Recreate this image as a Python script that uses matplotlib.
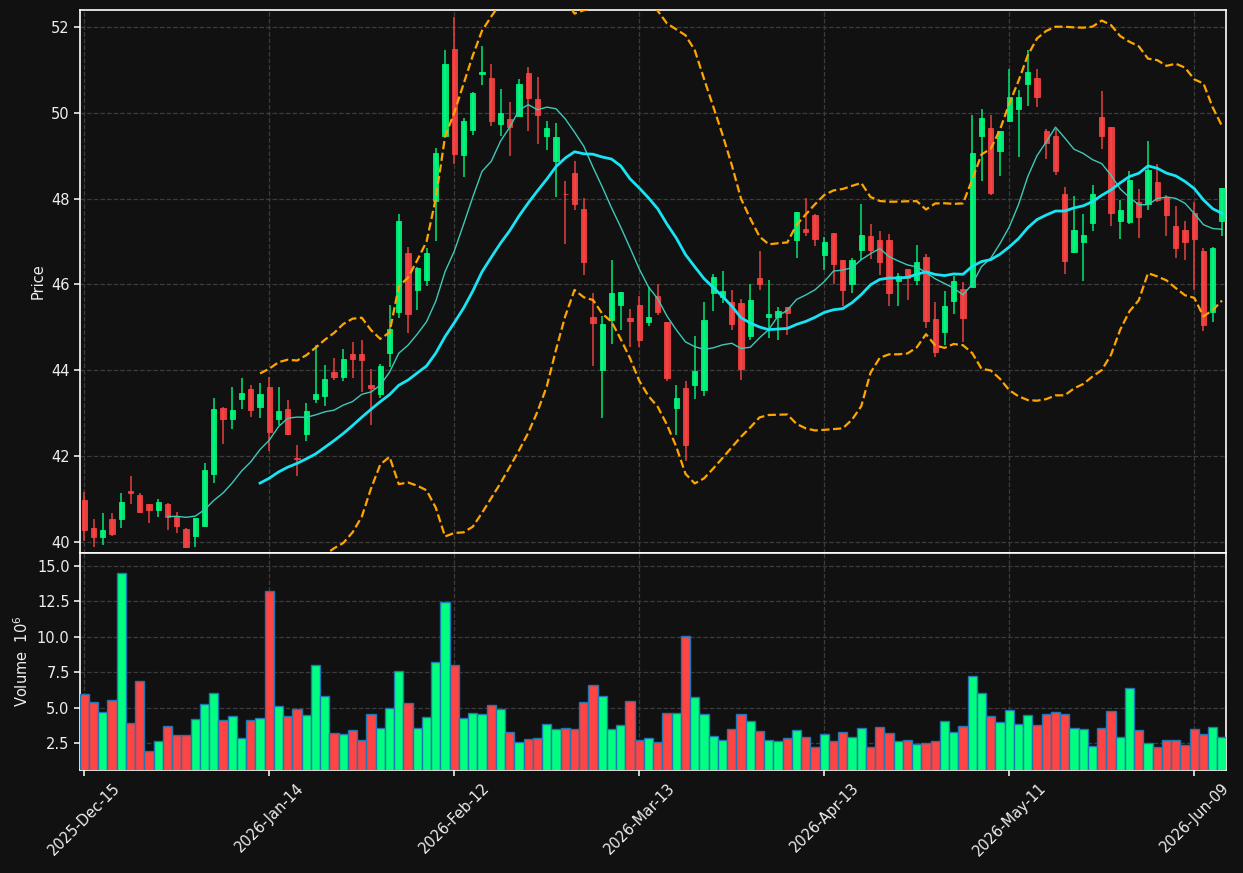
import numpy as np
import pandas as pd
import matplotlib
matplotlib.use("Agg")
import matplotlib.pyplot as plt

# ---------------- data ----------------
start_date = "2025-12-15"
n_days = 124
market_holidays = ["2025-12-25", "2026-01-01", "2026-01-19",
                   "2026-02-16", "2026-04-03", "2026-05-25"]

opens = [40.98, 40.33, 40.12, 40.54, 40.53, 41.19, 41.08, 40.89, 40.73, 40.89,
         40.61, 40.31, 40.13, 40.38, 41.59, 43.12, 42.87, 43.34, 43.57, 43.15,
         43.61, 42.87, 43.10, 41.95, 42.52, 43.34, 43.40, 43.97, 43.85, 44.37,
         44.37, 43.65, 43.44, 44.41, 45.36, 46.73, 45.87, 46.10, 47.94, 49.47,
         51.50, 49.02, 49.59, 50.90, 50.82, 49.74, 49.86, 49.92, 50.92, 50.33,
         49.45, 48.88, 48.11, 48.59, 47.77, 45.24, 44.01, 45.18, 45.52, 45.22,
         45.51, 45.13, 45.72, 45.13, 43.13, 43.58, 43.66, 43.55, 45.81, 45.71,
         45.59, 45.56, 44.80, 46.15, 45.25, 45.25, 45.48, 47.03, 47.29, 47.61,
         46.69, 47.19, 46.57, 46.02, 46.80, 47.12, 47.04, 47.03, 46.07, 46.36,
         46.11, 46.65, 45.19, 44.90, 45.61, 45.89, 45.94, 49.45, 49.65, 49.12,
         49.80, 50.08, 50.67, 50.82, 49.57, 49.47, 48.10, 46.76, 46.99, 47.43,
         49.91, 49.68, 47.47, 47.45, 47.92, 47.88, 48.38, 48.04, 47.37, 47.27,
         47.66, 46.78, 45.36, 47.47]
highs = [41.16, 40.53, 40.68, 40.68, 41.14, 41.53, 41.14, 40.89, 40.99, 40.91,
         40.70, 40.33, 40.56, 41.84, 43.35, 43.14, 43.61, 43.81, 43.65, 43.70,
         43.85, 43.61, 43.31, 42.26, 43.24, 44.59, 44.12, 44.28, 44.49, 44.65,
         44.71, 44.03, 44.15, 45.51, 47.65, 46.88, 46.40, 46.85, 49.18, 51.47,
         52.23, 49.89, 50.49, 51.57, 51.14, 50.55, 50.25, 50.79, 51.08, 50.84,
         49.81, 49.77, 48.42, 48.88, 48.02, 45.79, 45.26, 46.57, 45.82, 45.43,
         45.73, 45.93, 46.02, 45.13, 43.65, 43.74, 44.79, 45.60, 46.25, 46.31,
         45.86, 45.65, 46.02, 46.77, 46.10, 45.47, 45.48, 47.68, 48.01, 47.65,
         47.11, 47.19, 46.57, 46.62, 47.88, 47.41, 47.25, 47.18, 46.27, 46.36,
         46.91, 46.72, 45.58, 45.85, 46.20, 46.06, 49.95, 50.09, 49.95, 49.57,
         51.02, 50.54, 51.46, 51.02, 49.63, 49.63, 48.28, 48.07, 47.65, 48.31,
         50.51, 49.68, 47.97, 48.64, 48.23, 49.35, 48.80, 48.08, 47.84, 47.47,
         47.93, 46.86, 46.88, 48.26]
lows = [40.03, 39.87, 39.92, 40.14, 40.32, 40.88, 40.67, 40.45, 40.59, 40.27,
        40.20, 39.85, 39.88, 40.38, 41.38, 42.27, 42.64, 43.10, 42.92, 42.88,
        42.11, 42.72, 42.48, 41.53, 42.35, 43.24, 43.16, 43.77, 43.74, 43.81,
        43.49, 42.73, 43.36, 44.08, 45.22, 44.86, 45.41, 45.97, 47.01, 49.47,
        48.82, 48.50, 49.49, 50.64, 49.70, 49.47, 49.00, 49.92, 49.58, 49.27,
        49.14, 48.04, 46.95, 47.73, 46.21, 44.09, 42.88, 44.62, 44.94, 44.54,
        44.55, 45.04, 45.28, 43.74, 42.48, 41.88, 43.32, 43.40, 45.39, 45.57,
        44.94, 43.77, 44.70, 45.87, 44.76, 44.70, 44.82, 46.62, 47.14, 46.90,
        46.34, 46.02, 45.49, 45.81, 46.56, 46.60, 46.23, 45.49, 45.49, 45.63,
        45.99, 44.98, 44.32, 44.58, 45.31, 44.66, 45.94, 48.42, 48.09, 48.52,
        49.80, 48.97, 50.16, 50.14, 48.93, 48.56, 46.24, 46.74, 46.09, 47.25,
        49.15, 47.37, 47.07, 47.41, 47.08, 47.73, 47.92, 47.12, 46.61, 46.56,
        45.87, 44.92, 45.13, 47.14]
closes = [40.28, 40.12, 40.28, 40.19, 40.93, 41.14, 40.70, 40.73, 40.93, 40.57,
          40.36, 39.88, 40.56, 41.68, 43.10, 42.87, 43.07, 43.47, 43.08, 43.44,
          42.55, 43.04, 42.52, 41.94, 43.04, 43.44, 43.79, 43.85, 44.26, 44.27,
          44.25, 43.58, 44.10, 44.96, 47.47, 45.31, 46.38, 46.73, 49.06, 51.13,
          49.04, 49.82, 50.47, 50.96, 49.82, 50.00, 49.66, 50.67, 50.34, 49.95,
          49.65, 49.44, 48.10, 47.88, 46.53, 45.09, 45.08, 45.80, 45.82, 45.15,
          44.71, 45.24, 45.36, 43.82, 43.36, 42.26, 43.98, 45.17, 46.17, 45.85,
          45.08, 44.03, 45.64, 46.02, 45.30, 45.39, 45.34, 47.68, 47.22, 47.06,
          46.99, 46.48, 45.88, 46.57, 47.16, 46.80, 46.53, 45.81, 46.19, 46.15,
          46.52, 45.15, 44.43, 45.49, 46.07, 45.22, 49.06, 49.89, 48.14, 49.57,
          50.38, 50.36, 50.96, 50.38, 49.29, 48.64, 46.55, 47.26, 47.16, 48.12,
          49.45, 47.67, 47.73, 48.43, 47.58, 48.66, 47.96, 47.63, 46.84, 46.99,
          47.05, 45.06, 46.84, 48.26]
volumes_m = [5.94, 5.37, 4.67, 5.51, 14.48, 3.91, 6.86, 1.94, 2.62, 3.68,
             3.04, 3.04, 4.17, 5.23, 6.01, 4.10, 4.38, 2.83, 4.10, 4.24,
             13.21, 5.09, 4.38, 4.88, 4.45, 7.98, 5.80, 3.18, 3.11, 3.39,
             2.69, 4.52, 3.54, 4.95, 7.56, 5.30, 3.54, 4.31, 8.20, 12.43,
             7.98, 4.24, 4.60, 4.52, 5.16, 4.88, 3.25, 2.55, 2.76, 2.83,
             3.82, 3.47, 3.54, 3.47, 5.37, 6.57, 5.80, 3.47, 3.75, 5.44,
             2.69, 2.83, 2.55, 4.60, 4.60, 10.03, 5.73, 4.52, 2.97, 2.69,
             3.47, 4.52, 4.03, 3.32, 2.69, 2.62, 2.83, 3.39, 2.90, 2.19,
             3.11, 2.62, 3.25, 2.90, 3.54, 2.19, 3.61, 3.18, 2.62, 2.69,
             2.41, 2.48, 2.62, 4.03, 3.25, 3.68, 7.21, 6.01, 4.38, 3.96,
             4.81, 3.82, 4.45, 3.75, 4.52, 4.67, 4.52, 3.54, 3.47, 2.26,
             3.54, 4.74, 2.90, 6.36, 3.39, 2.48, 2.19, 2.69, 2.69, 2.34,
             3.47, 3.11, 3.61, 2.90]

ma_fast_window = 10
ma_slow_window = 20
bb_window = 20
bb_k = 2
tick_step = 20

# ---------------- styling ----------------
bg = "#111111"
up_col = "#00ff80"
down_col = "#ff4444"
grid_col = "#3c3c3c"
txt_col = "#eeeeee"

plt.rcParams["font.family"] = ["DejaVu Sans"]

dates = pd.bdate_range(start_date, periods=n_days, freq="C", holidays=market_holidays)
df = pd.DataFrame({"Open": opens, "High": highs, "Low": lows, "Close": closes,
                   "Volume": volumes_m}, index=dates)
x = np.arange(len(df))
up = df["Close"].values >= df["Open"].values
cols = np.where(up, up_col, down_col)

ma_fast = df["Close"].rolling(ma_fast_window).mean()
ma_slow = df["Close"].rolling(ma_slow_window).mean()
bb_std = df["Close"].rolling(bb_window).std()
bb_mid = df["Close"].rolling(bb_window).mean()
bb_up = bb_mid + bb_k * bb_std
bb_lo = bb_mid - bb_k * bb_std

fig = plt.figure(figsize=(12.43, 8.73), dpi=100, facecolor=bg)
ax = fig.add_axes([0.0644, 0.3666, 0.9219, 0.6220], facecolor=bg)
axv = fig.add_axes([0.0644, 0.1180, 0.9219, 0.2486], facecolor=bg, sharex=ax)

for a in (ax, axv):
    a.grid(True, color=grid_col, linestyle="--", linewidth=0.9)
    a.set_axisbelow(True)
    for s in a.spines.values():
        s.set_color("white")
        s.set_linewidth(1.2)
    a.tick_params(colors=txt_col, labelsize=10.5, width=1.2, length=4)

# candles
ax.vlines(x, df["Low"], df["High"], colors=cols, linewidth=1.1, alpha=0.9, zorder=2)
body_bottom = np.minimum(df["Open"].values, df["Close"].values)
body_h = np.abs(df["Close"].values - df["Open"].values)
ax.bar(x, body_h, bottom=body_bottom, width=0.58, color=cols, edgecolor=cols,
       linewidth=0.6, alpha=0.9, zorder=3)

# indicators
ax.plot(x, ma_fast, color="#3ec8b8", linewidth=1.0, zorder=4)
ax.plot(x, ma_slow, color="#18e4f4", linewidth=2.0, zorder=4)
ax.plot(x, bb_up, color="#ffa500", linewidth=1.6, linestyle="--", zorder=4)
ax.plot(x, bb_lo, color="#ffa500", linewidth=1.6, linestyle="--", zorder=4)

ax.set_ylim(39.74, 52.40)
ax.set_xlim(-0.46, 123.43)
ax.set_ylabel("Price", color=txt_col, fontsize=10.5)
ax.tick_params(axis="x", labelbottom=False)

# volume
axv.bar(x, df["Volume"], width=1.0, color=cols, edgecolor="#1f77b4", linewidth=1.0, zorder=3)
vmin, vmax = df["Volume"].min(), df["Volume"].max()
axv.set_ylim(0.3 * vmin, 1.1 * vmax)
axv.set_yticks([2.5, 5.0, 7.5, 10.0, 12.5, 15.0])
axv.set_yticklabels([f"{v:.1f}" for v in [2.5, 5.0, 7.5, 10.0, 12.5, 15.0]])
axv.set_ylabel("Volume  $10^6$", color=txt_col, fontsize=10.5)

ticks = list(range(0, len(df), tick_step))
axv.set_xticks(ticks)
axv.set_xticklabels([dates[i].strftime("%Y-%b-%d") for i in ticks], rotation=45,
                    ha="center", color=txt_col, fontsize=10.5)
ax.set_yticks([40, 42, 44, 46, 48, 50, 52])

fig.savefig("out.png", dpi=100, facecolor=bg)
